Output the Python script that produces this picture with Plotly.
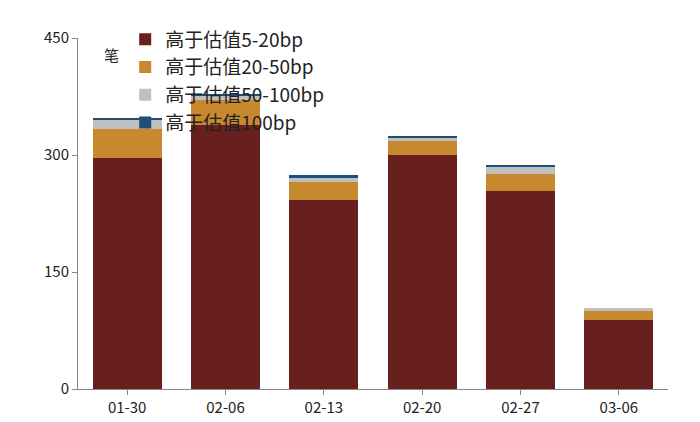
import plotly.graph_objects as go

cats = ["01-30", "02-06", "02-13", "02-20", "02-27", "03-06"]
s1 = [296, 338, 242, 300, 254, 88]
s2 = [37, 32, 24, 18, 22, 12]
s3 = [12, 6, 5, 5, 8, 4]
s4 = [3, 1, 3, 2, 3, 0]
names = ["高于估值5-20bp", "高于估值20-50bp", "高于估值50-100bp", "高于估值100bp"]
colors = ["#68201F", "#C8882E", "#BFBFBF", "#1F4E7A"]

fig = go.Figure()
for n, v, c in zip(names, [s1, s2, s3, s4], colors):
    fig.add_bar(x=cats, y=v, name=n, marker_color=c, marker_line_width=0, width=0.7)

fig.update_layout(
    barmode="stack", width=700, height=422, plot_bgcolor="white", paper_bgcolor="white",
    margin=dict(l=70, r=40, t=16, b=41),
    font=dict(family="Noto Sans CJK SC, DejaVu Sans", size=15, color="#222"),
    legend=dict(orientation="h", x=0.08, y=1.05, xanchor="left", yanchor="top",
                entrywidth=270, entrywidthmode="pixels", font=dict(size=19),
                bgcolor="rgba(0,0,0,0)", traceorder="normal"),
    xaxis=dict(type="category", showline=True, linecolor="#888", ticks="outside", ticklen=5, tickcolor="#888"),
    yaxis=dict(range=[0, 450], tickvals=[0, 150, 300, 450], showgrid=False, showline=True,
               linecolor="#888", ticks="outside", ticklen=5, tickcolor="#888"),
    annotations=[dict(text="笔", xref="paper", yref="paper", x=0.04, y=0.99, showarrow=False,
                      xanchor="left", yanchor="top", font=dict(size=15))],
)
fig.write_html("out.html")
